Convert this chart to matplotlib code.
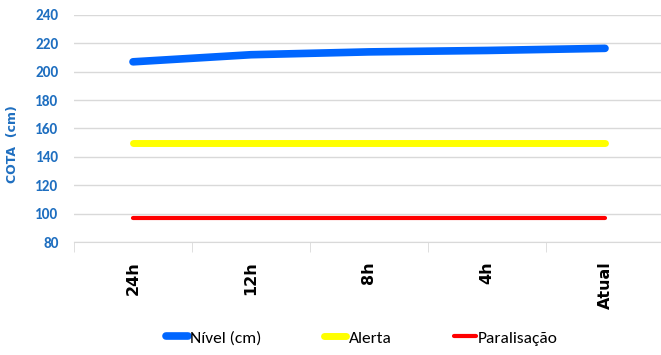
import matplotlib
matplotlib.use('Agg')
import matplotlib.pyplot as plt
from matplotlib.ticker import FixedLocator

categorias = ['24h', '12h', '8h', '4h', 'Atual']
nivel = [207, 212, 214, 215, 216.5]
alerta = [150, 150, 150, 150, 150]
paralisacao = [97, 97, 97, 97, 97]

azul_txt = '#1F6FC0'
estreita = ['Carlito', 'Liberation Sans Narrow', 'Roboto Condensed', 'Open Sans Condensed', 'Lato', 'DejaVu Sans']
larga = ['Verdana', 'DejaVu Sans']

fig = plt.figure(figsize=(6.61, 3.55), dpi=100)
ax = fig.add_axes([74/661, 1 - 242/355, 590/661, 227/355])

x = list(range(len(categorias)))
ax.plot(x, nivel, color='#0066FF', lw=5.5, solid_capstyle='round', label='Nível (cm)')
ax.plot(x, alerta, color='#FFFF00', lw=5, solid_capstyle='round', label='Alerta')
ax.plot(x, paralisacao, color='#FF0000', lw=3, solid_capstyle='round', label='Paralisação')

ax.set_xlim(-0.5, len(categorias) - 0.5)
ax.set_ylim(80, 240)
ax.set_yticks(range(80, 241, 20))
ax.grid(axis='y', color='#D9D9D9', lw=1)
ax.set_axisbelow(True)
for s in ax.spines.values():
    s.set_visible(False)
ax.spines['bottom'].set_visible(True)
ax.spines['bottom'].set_color('#D9D9D9')

ax.set_xticks(x)
ax.set_xticklabels(categorias, rotation=90, fontsize=11.5, fontweight='bold',
                   family=larga, va='top')
ax.xaxis.set_minor_locator(FixedLocator([i - 0.5 for i in range(len(categorias) + 1)]))
ax.tick_params(axis='x', which='major', length=0, pad=14)
ax.tick_params(axis='x', which='minor', length=7, color='#D9D9D9', direction='out')
ax.tick_params(axis='y', length=0, pad=11, labelcolor=azul_txt)
for t in ax.get_yticklabels():
    t.set_fontweight('bold')
    t.set_fontsize(11)
    t.set_family(estreita)

ax.set_ylabel('COTA  (cm)', color=azul_txt, fontsize=9, fontweight='bold', family=larga)
ax.yaxis.set_label_coords(-55/590, 0.43)

leg = fig.legend(loc='center', bbox_to_anchor=(362/661, 1 - 338/355), ncol=3, frameon=False,
                 prop={'family': estreita, 'size': 12.5},
                 handlelength=1.25, handletextpad=0.15, columnspacing=3.6)

fig.savefig('out.png', dpi=100)
